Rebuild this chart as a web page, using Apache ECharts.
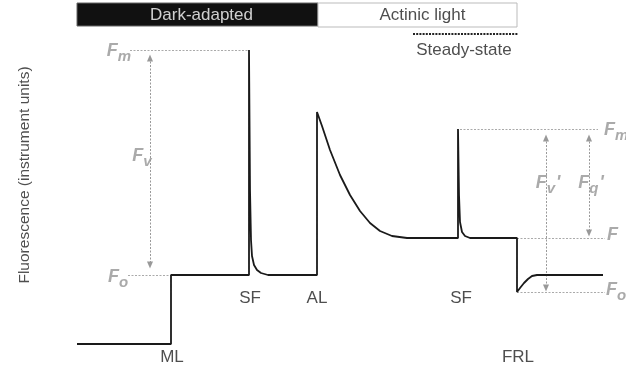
<!DOCTYPE html>
<html>
<head>
<meta charset="utf-8">
<script src="https://cdn.jsdelivr.net/npm/echarts@6/dist/echarts.min.js"></script>
<style>html,body{margin:0;padding:0;background:#fff}#c{width:626px;height:371px}</style>
</head>
<body>
<div id="c"></div>
<script>
// Fluorescence trace (time, fluorescence in instrument units)
var traceTime  = [77,171,171,249,249,250,251,252,254,257,261,268,317,317,322,330,340,350,360,370,380,392,407,458,458,459,460,462,465,470,517,517,520,524,528,532,537,603];
var traceFluor = [27,27,96,96,321,181,131,115,106,101,98,96,96,259,245,221,196,176,160,148,140,135,133,133,242,176,149,139,135,133,133,79,83,88,92,95,96,96];

// Characteristic levels
var levelFm = 321, levelFo = 96, levelFmp = 242, levelF = 133, levelFop = 79;

// Event labels [time, fluorescence, text]
var eventLabels = [[250,73,'SF'],[317,73,'AL'],[461,73,'SF'],[172,14,'ML'],[518,14,'FRL']];
// Phase bar
var phaseNames = ['Dark-adapted','Actinic light'];
var phaseStart = [77,318];
var phaseEnd = [318,517];
var steadyStart = 413, steadyEnd = 518;

var trace = traceTime.map(function(t,i){return [t, traceFluor[i]];});

var grey = '#959595';
var font = '"Liberation Sans", Arial, sans-serif';
var rich = {
  F:{fontSize:18,fontStyle:'italic',fontWeight:'bold',color:grey,fontFamily:font,lineHeight:20,verticalAlign:'top'},
  s:{fontSize:15,fontStyle:'italic',fontWeight:'bold',color:grey,fontFamily:font,lineHeight:15,padding:[7,0,0,0],verticalAlign:'top'},
  p:{fontSize:18,fontStyle:'italic',fontWeight:'bold',color:grey,fontFamily:font,lineHeight:18,padding:[0,0,0,1],verticalAlign:'top'}
};
// Parameter annotations [time, fluorescence, rich text, align]
var paramLabels = [
  [119,319,'{F|F}{s|m}','center'],
  [118,93,'{F|F}{s|o}','center'],
  [142,214,'{F|F}{s|v}','center'],
  [604,240,'{F|F}{s|m}{p|\'}','left'],
  [548,187,'{F|F}{s|v}{p|\'}','center'],
  [591,187,'{F|F}{s|q}{p|\'}','center'],
  [607,135,'{F|F}','left'],
  [606,80,'{F|F}{s|o}{p|\'}','left']
];

var dotted = {color:'#aaa',type:[2,1.5],width:1};
var arrowLines = [
  [[150,313],[150,106]],
  [[546,233],[546,83]],
  [[589,233],[589,138]]
];
var guideLines = [
  [[130,levelFm],[249,levelFm]],
  [[128,levelFo],[171,levelFo]],
  [[460,levelFmp],[598,levelFmp]],
  [[517,levelF],[605,levelF]],
  [[517,levelFop],[605,levelFop]]
];

var chart = echarts.init(document.getElementById('c'), null, {renderer:'canvas'});
chart.setOption({
  animation:false,
  backgroundColor:'#fff',
  grid:{left:0,right:0,top:0,bottom:0},
  xAxis:{type:'value',min:0,max:626,show:false},
  yAxis:{type:'value',min:0,max:371,show:false},
  series:[
    {
      type:'line',data:trace,symbol:'none',z:5,
      lineStyle:{color:'#1a1a1a',width:1.8},
      markLine:{silent:true,symbol:['none','none'],lineStyle:dotted,label:{show:false},
        data:guideLines.map(function(l){return [{coord:l[0]},{coord:l[1]}];})},
      markArea:{silent:true,
        data:[
          [{coord:[phaseStart[0],368],itemStyle:{color:'#111',borderColor:'#666',borderWidth:1}},{coord:[phaseEnd[0],345]}],
          [{coord:[phaseStart[1],368],itemStyle:{color:'#fff',borderColor:'#bbb',borderWidth:1}},{coord:[phaseEnd[1],344]}]
        ],
        label:{show:false}}
    },
    {
      type:'line',data:[],symbol:'none',
      markLine:{silent:true,symbol:['triangle','triangle'],symbolSize:[6,7],
        lineStyle:{color:'#999',type:[2,1.5],width:1},itemStyle:{color:'#888'},label:{show:false},
        data:arrowLines.map(function(l){return [{coord:l[0]},{coord:l[1]}];})}
    },
    {
      type:'line',data:[],symbol:'none',
      markLine:{silent:true,symbol:['none','none'],lineStyle:{color:'#222',type:[2,1.2],width:2.2},label:{show:false},
        data:[[{coord:[steadyStart,337]},{coord:[steadyEnd,337]}]]}
    },
    {
      type:'scatter',symbolSize:0,z:10,
      data:eventLabels.map(function(d){return {value:[d[0],d[1]],name:d[2]};}),
      label:{show:true,position:'inside',formatter:'{b}',color:'#222',fontSize:17,fontFamily:font}
    },
    {
      type:'scatter',symbolSize:0,z:10,
      data:[
        {value:[(phaseStart[0]+phaseEnd[0])/2+4,356],name:phaseNames[0],label:{color:'#fff'}},
        {value:[(phaseStart[1]+phaseEnd[1])/2+5,356],name:phaseNames[1],label:{color:'#222'}},
        {value:[464,321],name:'Steady-state',label:{color:'#222'}}
      ],
      label:{show:true,position:'inside',formatter:'{b}',fontSize:17,fontFamily:font}
    },
    {
      type:'scatter',symbolSize:0,z:10,
      data:[{value:[25,196],name:'Fluorescence (instrument units)'}],
      label:{show:true,position:'inside',rotate:90,formatter:'{b}',color:'#222',fontSize:15.5,fontFamily:font}
    },
    {
      type:'scatter',symbolSize:0,z:10,
      data:paramLabels.map(function(d){return {value:[d[0],d[1]],name:d[2],label:{align:d[3],position:d[3]==='left'?'right':'inside',distance:0}};}),
      label:{show:true,formatter:'{b}',rich:rich}
    }
  ]
});
</script>
</body>
</html>
